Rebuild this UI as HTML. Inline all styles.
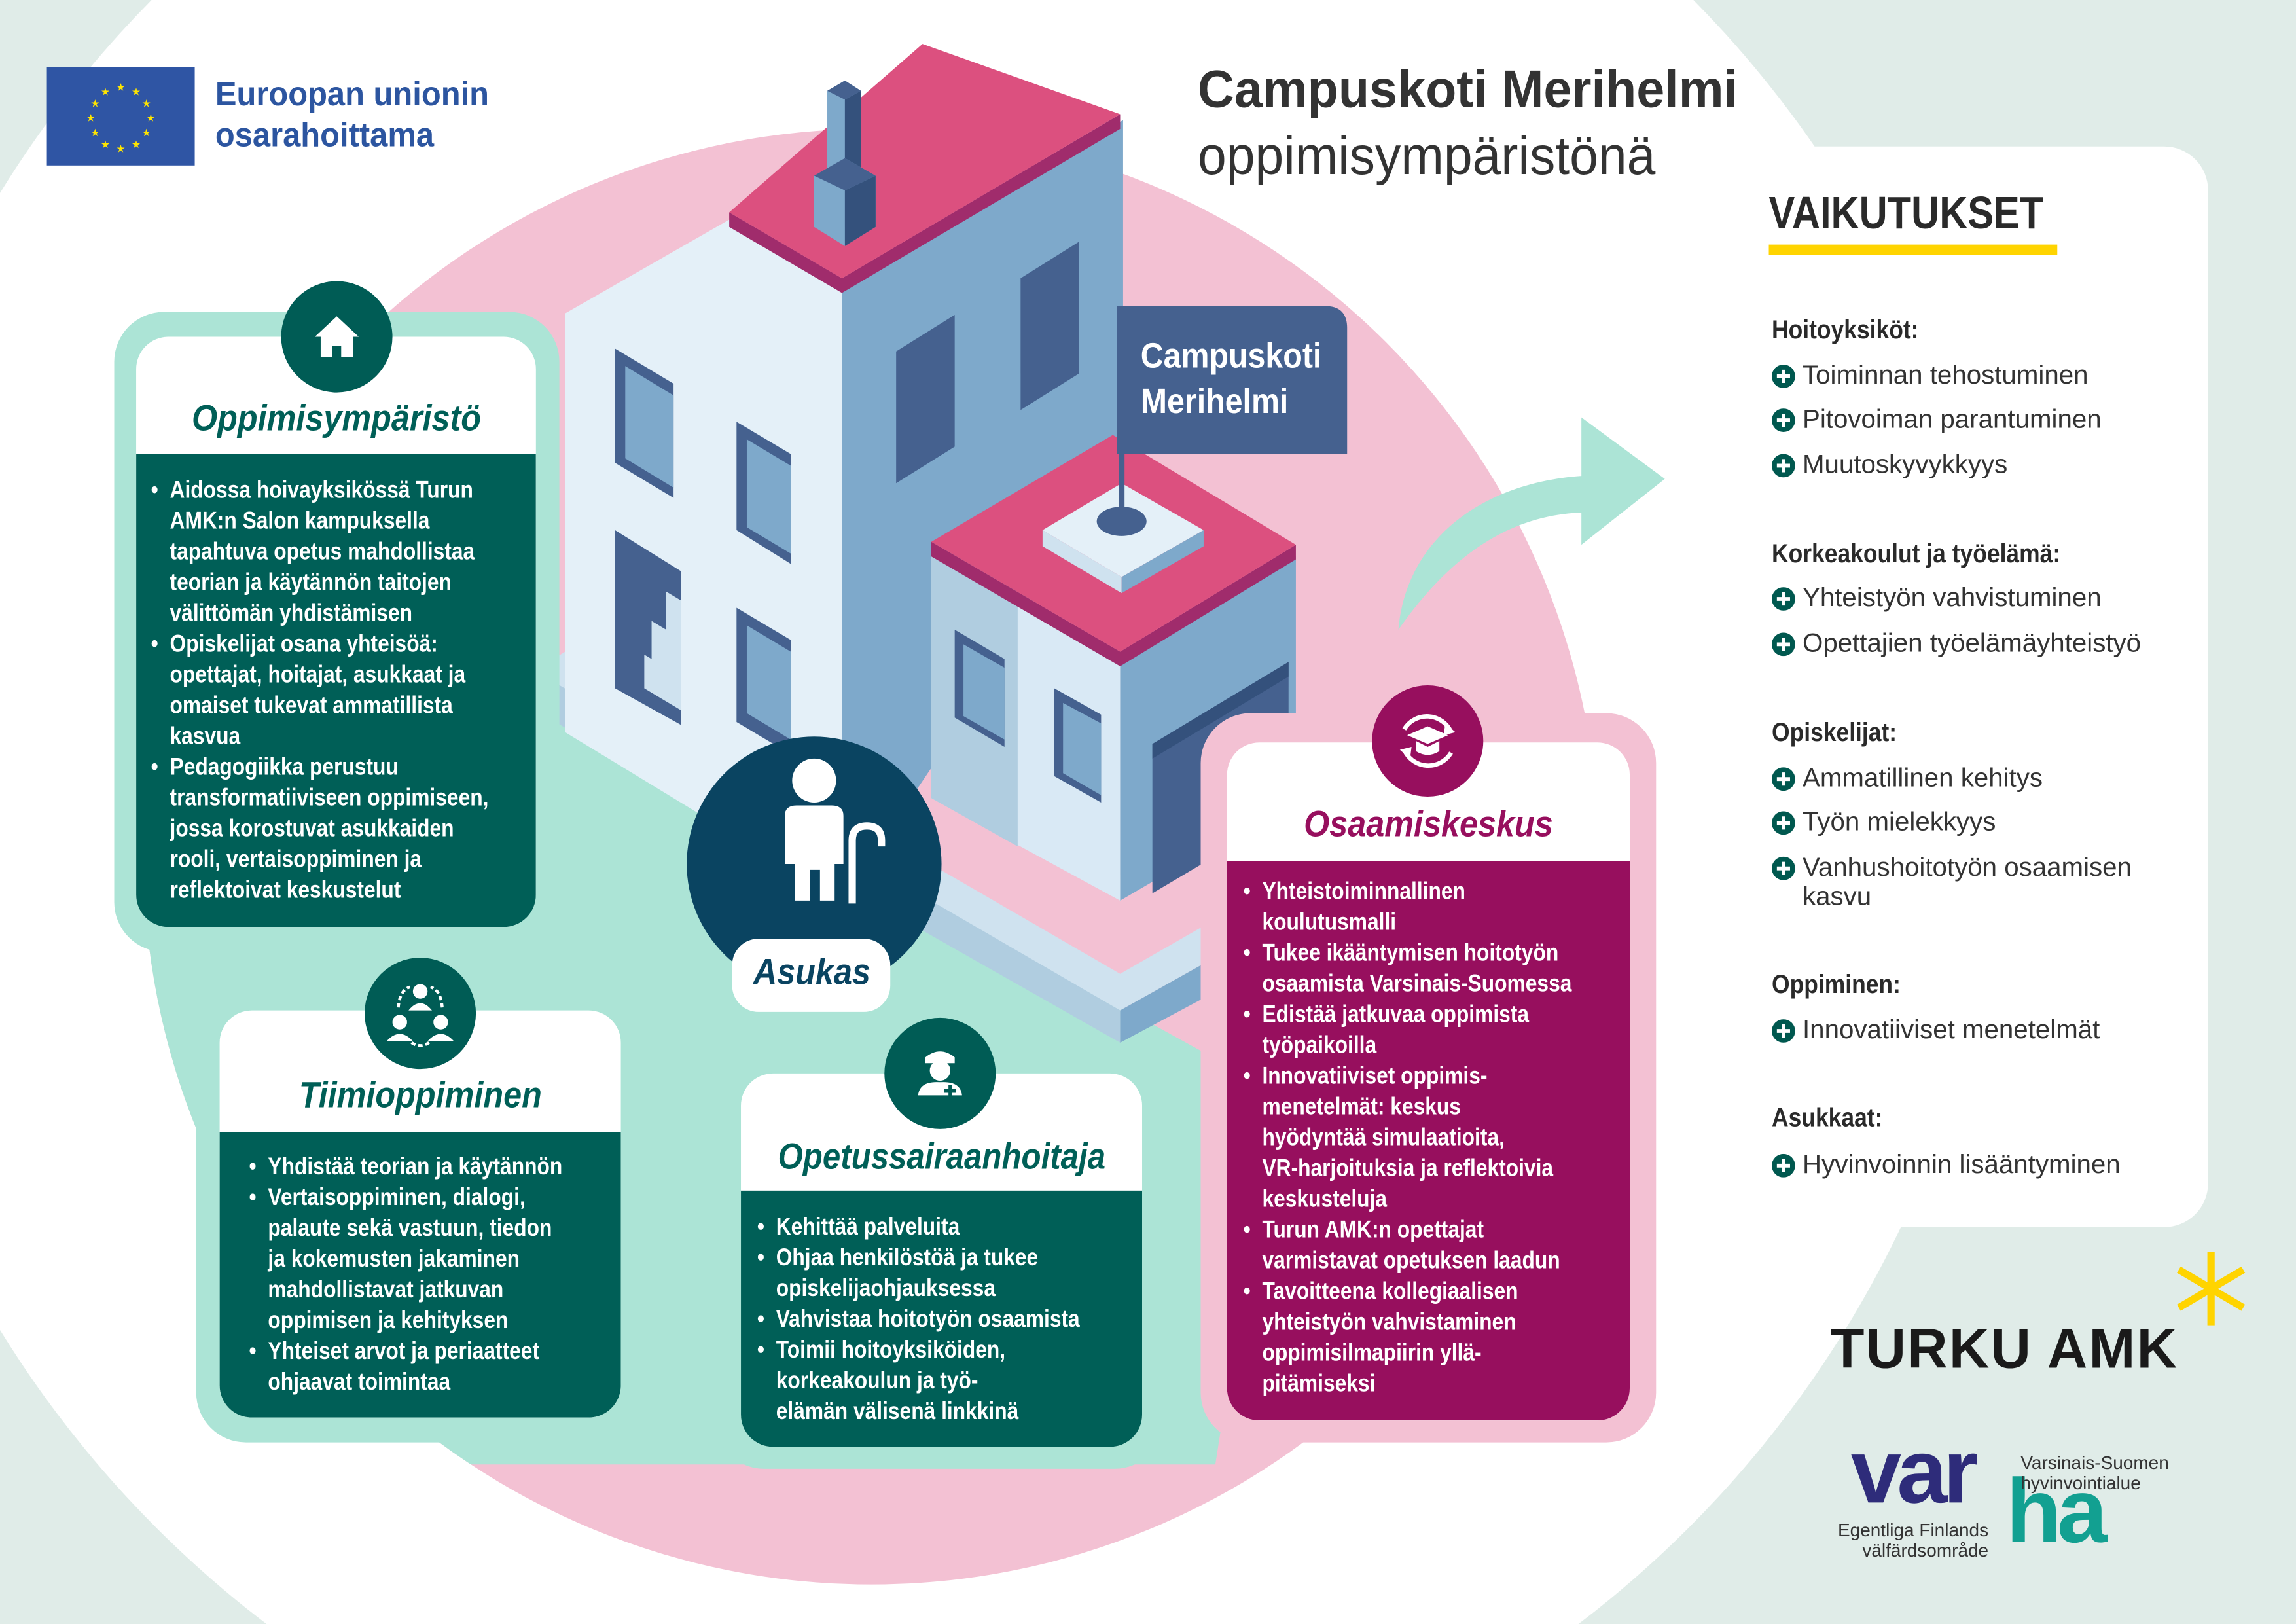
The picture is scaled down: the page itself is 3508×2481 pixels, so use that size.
<!DOCTYPE html>
<html><head><meta charset="utf-8">
<style>
html,body{margin:0;padding:0;width:3508px;height:2481px;overflow:hidden;}
body{background:#e0ece8;font-family:"Liberation Sans",sans-serif;position:relative;}
#s{position:absolute;left:0;top:0;width:1568px;height:1109px;transform:scale(2.2372);transform-origin:0 0;overflow:hidden;}
.a{position:absolute;}
.card{position:absolute;background:#fff;border-radius:22px;overflow:hidden;}
.ttl{position:absolute;left:0;right:0;text-align:center;font-weight:bold;font-style:italic;font-size:25px;white-space:nowrap;}
.body{position:absolute;left:0;right:0;bottom:0;}
.txt{position:absolute;color:#fff;font-weight:bold;font-size:16.5px;line-height:21px;white-space:nowrap;transform:scaleX(0.86);transform-origin:0 0;}
.txt div{position:relative;}
.txt .b::before{content:"•";position:absolute;left:-15px;}
.ic{position:absolute;width:76px;height:76px;border-radius:50%;}
.rp{position:absolute;left:1210px;color:#333;white-space:nowrap;}
.h{font-weight:bold;font-size:18px;transform:scaleX(0.88);transform-origin:0 0;color:#2a2a2a;}
.it{font-size:18px;color:#333;}
.it svg{position:absolute;left:0;top:3px;}
.it span{position:absolute;left:21px;top:0;}
</style></head><body>
<div id="s">
<svg class="a" style="left:0;top:0" width="1568" height="1109" viewBox="0 0 1568 1109">
 <defs><clipPath id="pc"><circle cx="595" cy="585" r="497"/></clipPath></defs>
 <circle cx="630" cy="520" r="740" fill="#fff"/>
 <circle cx="595" cy="585" r="497" fill="#f3c1d3"/>
 <polygon clip-path="url(#pc)" points="85,600 370,470 870,745 830,1000 140,1000 100,900" fill="#ace4d6"/>
 <!-- arrow -->
 <path d="M955,430 C960,370 1010,330 1080,325 L1080,285 L1137,327 L1080,372 L1080,350 C1030,352 990,380 955,430 Z" fill="#ace4d6"/>
 <!-- ground slab -->
 <polygon points="365,485 386,473 765,690 840,648 840,622 765,665 575,555 386,445 365,458" fill="#cfe2ef"/>
 <polygon points="365,458 365,485 765,712 765,690" fill="#b0cde0"/>
 <polygon points="765,690 840,648 840,672 765,712" fill="#7ea9cb"/>
 <!-- tower light face -->
 <polygon points="386,214 498,150 575,195 575,615 386,500" fill="#e4f0f8"/>
 <!-- tower right face -->
 <polygon points="575,195 767,82 767,330 575,615" fill="#7ea9cb"/>
 <polygon points="612,240 652,215 652,305 612,330" fill="#45618f"/>
 <polygon points="697,190 737,165 737,255 697,280" fill="#45618f"/>
 <polygon points="420,238 460,262 460,340 420,316" fill="#45618f"/><polygon points="427,250 460,270 460,333 427,313" fill="#7ea9cb"/>
 <polygon points="503,288 540,310 540,385 503,362" fill="#45618f"/><polygon points="510,300 540,318 540,378 510,360" fill="#7ea9cb"/>
 <polygon points="420,362 465,390 465,495 420,470" fill="#45618f"/>
 <polygon points="440,470 465,485 465,410 455,404 455,430 445,424 445,450 440,447" fill="#cfe2ef"/>
 <polygon points="503,415 540,437 540,515 503,493" fill="#45618f"/><polygon points="510,427 540,445 540,505 510,487" fill="#7ea9cb"/>
 <!-- main roof -->
 <polygon points="498,145 575,190 765,78 765,88 575,200 498,155" fill="#a02c6c"/>
 <polygon points="630,30 765,78 575,190 498,145" fill="#dc507f"/>
 <!-- chimney -->
 <polygon points="565,62 577,55 588,62 588,115 565,115" fill="#7ea9cb"/>
 <polygon points="577,68 588,62 588,118 577,124" fill="#34517c"/>
 <polygon points="565,62 577,55 588,62 577,68" fill="#45618f"/>
 <polygon points="556,120 577,108 598,120 598,155 577,168 556,155" fill="#7ea9cb"/>
 <polygon points="577,130 598,120 598,155 577,168" fill="#34517c"/>
 <polygon points="556,120 577,108 598,120 577,130" fill="#45618f"/>
 <!-- small building -->
 <polygon points="636,380 765,452 765,615 636,545" fill="#d9e9f5"/>
 <polygon points="636,380 695,413 695,578 636,545" fill="#b0cde0"/>
 <polygon points="765,452 885,380 885,545 765,615" fill="#7ea9cb"/>
 <polygon points="787,508 880,452 880,555 787,610" fill="#45618f"/>
 <polygon points="787,508 880,452 880,462 787,518" fill="#34517c"/>
 <polygon points="652,430 686,450 686,510 652,490" fill="#45618f"/><polygon points="658,440 686,456 686,505 658,489" fill="#7ea9cb"/>
 <polygon points="720,470 752,488 752,548 720,530" fill="#45618f"/><polygon points="726,480 752,494 752,543 726,528" fill="#7ea9cb"/>
 <polygon points="636,370 765,445 885,372 885,382 765,455 636,380" fill="#a02c6c"/>
 <polygon points="636,370 760,297 885,372 765,445" fill="#dc507f"/>
 <polygon points="712,362 766,330 822,362 766,394" fill="#e4f0f8"/>
 <polygon points="712,362 766,394 766,405 712,373" fill="#cfe2ef"/>
 <polygon points="766,394 822,362 822,373 766,405" fill="#7ea9cb"/>
 <rect x="764" y="300" width="4" height="55" fill="#45618f"/>
 <ellipse cx="766" cy="356" rx="17" ry="10" fill="#45618f"/>
 <path d="M763,209 H905 Q920,209 920,224 V310 H763 Z" fill="#45618f"/>
</svg>

<div class="a" style="left:779px;top:228px;color:#fff;font-weight:bold;font-size:24px;line-height:31px;white-space:nowrap;transform:scaleX(0.9);transform-origin:0 0">Campuskoti<br>Merihelmi</div>

<!-- EU -->
<div class="a" style="left:32px;top:46px;width:101px;height:67px;background:#2f55a4"></div>
<svg class="a" style="left:32px;top:46px" width="101" height="67">
 <g fill="#ffe500" font-size="7" text-anchor="middle" font-family="DejaVu Sans">
 <text x="50.5" y="16">★</text><text x="61" y="19">★</text><text x="68" y="27">★</text><text x="71" y="37">★</text><text x="68" y="47">★</text><text x="61" y="55">★</text><text x="50.5" y="58">★</text><text x="40" y="55">★</text><text x="33" y="47">★</text><text x="30" y="37">★</text><text x="33" y="27">★</text><text x="40" y="19">★</text>
 </g></svg>
<div class="a" style="left:147px;top:50px;color:#2c55a0;font-weight:bold;font-size:23px;line-height:28px;white-space:nowrap;transform:scaleX(0.95);transform-origin:0 0">Euroopan unionin<br>osarahoittama</div>

<div class="a" style="left:818px;top:40px;color:#333;font-weight:bold;font-size:36px;white-space:nowrap;transform:scaleX(0.96);transform-origin:0 0">Campuskoti Merihelmi</div>
<div class="a" style="left:818px;top:86px;color:#333;font-size:37px;white-space:nowrap;transform:scaleX(0.95);transform-origin:0 0">oppimisympäristönä</div>

<div class="a" style="left:1175px;top:100px;width:333px;height:738px;background:#fff;border-radius:30px"></div>
<div class="a" style="left:1208px;top:128px;font-weight:bold;font-size:31px;color:#2a2a2a;white-space:nowrap;transform:scaleX(0.86);transform-origin:0 0">VAIKUTUKSET</div>
<div class="a" style="left:1208px;top:167px;width:197px;height:7px;background:#ffd400"></div>

<div class="rp h" style="top:215px">Hoitoyksiköt:</div>
<div class="rp it" style="top:246px"><svg width="16" height="16"><circle cx="8" cy="8" r="8" fill="#00584f"/><path d="M8,3.5V12.5M3.5,8H12.5" stroke="#fff" stroke-width="2.6"/></svg><span>Toiminnan tehostuminen</span></div>
<div class="rp it" style="top:276px"><svg width="16" height="16"><circle cx="8" cy="8" r="8" fill="#00584f"/><path d="M8,3.5V12.5M3.5,8H12.5" stroke="#fff" stroke-width="2.6"/></svg><span>Pitovoiman parantuminen</span></div>
<div class="rp it" style="top:307px"><svg width="16" height="16"><circle cx="8" cy="8" r="8" fill="#00584f"/><path d="M8,3.5V12.5M3.5,8H12.5" stroke="#fff" stroke-width="2.6"/></svg><span>Muutoskyvykkyys</span></div>

<div class="rp h" style="top:368px">Korkeakoulut ja työelämä:</div>
<div class="rp it" style="top:398px"><svg width="16" height="16"><circle cx="8" cy="8" r="8" fill="#00584f"/><path d="M8,3.5V12.5M3.5,8H12.5" stroke="#fff" stroke-width="2.6"/></svg><span>Yhteistyön vahvistuminen</span></div>
<div class="rp it" style="top:429px"><svg width="16" height="16"><circle cx="8" cy="8" r="8" fill="#00584f"/><path d="M8,3.5V12.5M3.5,8H12.5" stroke="#fff" stroke-width="2.6"/></svg><span>Opettajien työelämäyhteistyö</span></div>

<div class="rp h" style="top:490px">Opiskelijat:</div>
<div class="rp it" style="top:521px"><svg width="16" height="16"><circle cx="8" cy="8" r="8" fill="#00584f"/><path d="M8,3.5V12.5M3.5,8H12.5" stroke="#fff" stroke-width="2.6"/></svg><span>Ammatillinen kehitys</span></div>
<div class="rp it" style="top:551px"><svg width="16" height="16"><circle cx="8" cy="8" r="8" fill="#00584f"/><path d="M8,3.5V12.5M3.5,8H12.5" stroke="#fff" stroke-width="2.6"/></svg><span>Työn mielekkyys</span></div>
<div class="rp it" style="top:582px"><svg width="16" height="16"><circle cx="8" cy="8" r="8" fill="#00584f"/><path d="M8,3.5V12.5M3.5,8H12.5" stroke="#fff" stroke-width="2.6"/></svg><span style="line-height:20px">Vanhushoitotyön osaamisen<br>kasvu</span></div>

<div class="rp h" style="top:662px">Oppiminen:</div>
<div class="rp it" style="top:693px"><svg width="16" height="16"><circle cx="8" cy="8" r="8" fill="#00584f"/><path d="M8,3.5V12.5M3.5,8H12.5" stroke="#fff" stroke-width="2.6"/></svg><span>Innovatiiviset menetelmät</span></div>

<div class="rp h" style="top:753px">Asukkaat:</div>
<div class="rp it" style="top:785px"><svg width="16" height="16"><circle cx="8" cy="8" r="8" fill="#00584f"/><path d="M8,3.5V12.5M3.5,8H12.5" stroke="#fff" stroke-width="2.6"/></svg><span>Hyvinvoinnin lisääntyminen</span></div>

<!-- Oppimisympäristö -->
<div class="a" style="left:78px;top:213px;width:304px;height:437px;background:#ace4d6;border-radius:34px"></div>
<div class="card" style="left:93px;top:230px;width:273px;height:403px">
 <div class="ttl" style="top:42px;color:#005f57"><span style="display:inline-block;transform:scaleX(0.9)">Oppimisympäristö</span></div>
 <div class="body" style="top:80px;background:#005f57"></div>
</div>
<div class="ic" style="left:192px;top:192px;background:#005c55"></div>
<svg class="a" style="left:212px;top:212px" width="36" height="36"><path d="M18,4 L33,18 H29 V32 H21 V24 H15 V32 H7 V18 H3 Z" fill="#fff"/></svg>
<div class="txt" style="left:116px;top:325px">
<div class="b">Aidossa hoivayksikössä Turun</div><div>AMK:n Salon kampuksella</div><div>tapahtuva opetus mahdollistaa</div><div>teorian ja käytännön taitojen</div><div>välittömän yhdistämisen</div>
<div class="b">Opiskelijat osana yhteisöä:</div><div>opettajat, hoitajat, asukkaat ja</div><div>omaiset tukevat ammatillista</div><div>kasvua</div>
<div class="b">Pedagogiikka perustuu</div><div>transformatiiviseen oppimiseen,</div><div>jossa korostuvat asukkaiden</div><div>rooli, vertaisoppiminen ja</div><div>reflektoivat keskustelut</div>
</div>

<!-- Tiimioppiminen -->
<div class="a" style="left:134px;top:673px;width:306px;height:312px;background:#ace4d6;border-radius:34px"></div>
<div class="card" style="left:150px;top:690px;width:274px;height:278px">
 <div class="ttl" style="top:44px;color:#005f57"><span style="display:inline-block;transform:scaleX(0.9)">Tiimioppiminen</span></div>
 <div class="body" style="top:83px;background:#005f57"></div>
</div>
<div class="ic" style="left:249px;top:654px;background:#005c55"></div>
<svg class="a" style="left:259px;top:664px" width="56" height="56"><g fill="#fff"><circle cx="28" cy="13" r="5"/><path d="M20,26 Q28,16 36,26Z"/><circle cx="14" cy="34" r="5"/><path d="M5,47 Q14,37 23,47Z"/><circle cx="42" cy="34" r="5"/><path d="M33,47 Q42,37 51,47Z"/></g><g fill="none" stroke="#fff" stroke-width="2" stroke-dasharray="3 2"><path d="M13,24 Q14,12 21,10"/><path d="M43,24 Q42,12 35,10"/><path d="M22,48 Q28,52 34,48"/></g></svg>
<div class="txt" style="left:183px;top:787px">
<div class="b">Yhdistää teorian ja käytännön</div>
<div class="b">Vertaisoppiminen, dialogi,</div><div>palaute sekä vastuun, tiedon</div><div>ja kokemusten jakaminen</div><div>mahdollistavat jatkuvan</div><div>oppimisen ja kehityksen</div>
<div class="b">Yhteiset arvot ja periaatteet</div><div>ohjaavat toimintaa</div>
</div>

<!-- Opetussairaanhoitaja -->
<div class="a" style="left:488px;top:715px;width:307px;height:288px;background:#ace4d6;border-radius:34px"></div>
<div class="card" style="left:506px;top:733px;width:274px;height:255px">
 <div class="ttl" style="top:43px;color:#005f57"><span style="display:inline-block;transform:scaleX(0.88)">Opetussairaanhoitaja</span></div>
 <div class="body" style="top:80px;background:#005f57"></div>
</div>
<div class="ic" style="left:604px;top:695px;background:#005c55"></div>
<svg class="a" style="left:622px;top:712px" width="40" height="40"><g fill="#fff"><path d="M10,10 Q20,2 30,10 V14 H10Z"/><circle cx="20" cy="19" r="7"/><path d="M5,36 Q6,26 20,27 Q34,26 35,36Z"/></g><path d="M27,29V37M23,33H31" stroke="#005c55" stroke-width="2.5"/></svg>
<div class="txt" style="left:530px;top:828px">
<div class="b">Kehittää palveluita</div>
<div class="b">Ohjaa henkilöstöä ja tukee</div><div>opiskelijaohjauksessa</div>
<div class="b">Vahvistaa hoitotyön osaamista</div>
<div class="b">Toimii hoitoyksiköiden,</div><div>korkeakoulun ja työ-</div><div>elämän välisenä linkkinä</div>
</div>

<!-- Osaamiskeskus -->
<div class="a" style="left:820px;top:487px;width:311px;height:498px;background:#f3c1d3;border-radius:34px"></div>
<div class="card" style="left:838px;top:507px;width:275px;height:463px">
 <div class="ttl" style="top:42px;color:#970f5e"><span style="display:inline-block;transform:scaleX(0.9)">Osaamiskeskus</span></div>
 <div class="body" style="top:81px;background:#970f5e"></div>
</div>
<div class="ic" style="left:937px;top:468px;background:#970f5e"></div>
<svg class="a" style="left:947px;top:478px" width="56" height="56"><g fill="none" stroke="#fff" stroke-width="3"><path d="M12,20 A18,18 0 0 1 44,22"/><path d="M44,36 A18,18 0 0 1 12,34"/></g><g fill="#fff"><path d="M40,16 L47,22 L39,24Z"/><path d="M16,40 L9,34 L17,32Z"/><path d="M14,24 L28,18 L42,24 L28,30Z"/><path d="M20,28 V35 Q28,40 36,35 V28 L28,32Z"/></g></svg>
<div class="txt" style="left:862px;top:599px">
<div class="b">Yhteistoiminnallinen</div><div>koulutusmalli</div>
<div class="b">Tukee ikääntymisen hoitotyön</div><div>osaamista Varsinais-Suomessa</div>
<div class="b">Edistää jatkuvaa oppimista</div><div>työpaikoilla</div>
<div class="b">Innovatiiviset oppimis-</div><div>menetelmät: keskus</div><div>hyödyntää simulaatioita,</div><div>VR-harjoituksia ja reflektoivia</div><div>keskusteluja</div>
<div class="b">Turun AMK:n opettajat</div><div>varmistavat opetuksen laadun</div>
<div class="b">Tavoitteena kollegiaalisen</div><div>yhteistyön vahvistaminen</div><div>oppimisilmapiirin yllä-</div><div>pitämiseksi</div>
</div>

<!-- Asukas -->
<div class="a" style="left:469px;top:503px;width:174px;height:174px;border-radius:50%;background:#0a4461"></div>
<svg class="a" style="left:520px;top:512px" width="90" height="110"><g fill="#fff"><circle cx="36" cy="21" r="15"/><path d="M16,45 Q16,38 24,38 H48 Q56,38 56,45 V78 H50 V103 H40 V82 H33 V103 H23 V78 H16Z"/></g><path d="M62,105 V62 Q62,52 72,52 Q82,52 82,62 V66" fill="none" stroke="#fff" stroke-width="5"/></svg>
<div class="a" style="left:500px;top:641px;width:108px;height:50px;background:#fff;border-radius:18px"></div>
<div class="a" style="left:500px;top:650px;width:108px;text-align:center;color:#0a4461;font-weight:bold;font-style:italic;font-size:25px;white-space:nowrap"><span style="display:inline-block;transform:scaleX(0.9)">Asukas</span></div>

<!-- Turku AMK -->
<div class="a" style="left:1250px;top:901px;font-weight:bold;font-size:38px;color:#1a1a1a;white-space:nowrap;letter-spacing:1px">TURKU AMK</div>
<svg class="a" style="left:1482px;top:852px" width="56" height="56"><g stroke="#ffd400" stroke-width="5"><line x1="28" y1="3" x2="28" y2="53"/><line x1="6" y1="15" x2="50" y2="41"/><line x1="6" y1="41" x2="50" y2="15"/></g></svg>

<!-- varha -->
<div class="a" style="left:1264px;top:975px;font-weight:bold;font-size:62px;line-height:62px;color:#2e2c7a;letter-spacing:-3px;white-space:nowrap">var</div>
<div class="a" style="left:1370px;top:1002px;font-weight:bold;font-size:62px;line-height:62px;color:#12a091;letter-spacing:-3px;white-space:nowrap">ha</div>
<div class="a" style="left:1380px;top:992px;font-size:12.5px;line-height:14px;color:#333;white-space:nowrap">Varsinais-Suomen<br>hyvinvointialue</div>
<div class="a" style="left:1250px;top:1038px;font-size:12.5px;line-height:14px;color:#333;white-space:nowrap;text-align:right;width:108px">Egentliga Finlands<br>välfärdsområde</div>
</div>
</body></html>
